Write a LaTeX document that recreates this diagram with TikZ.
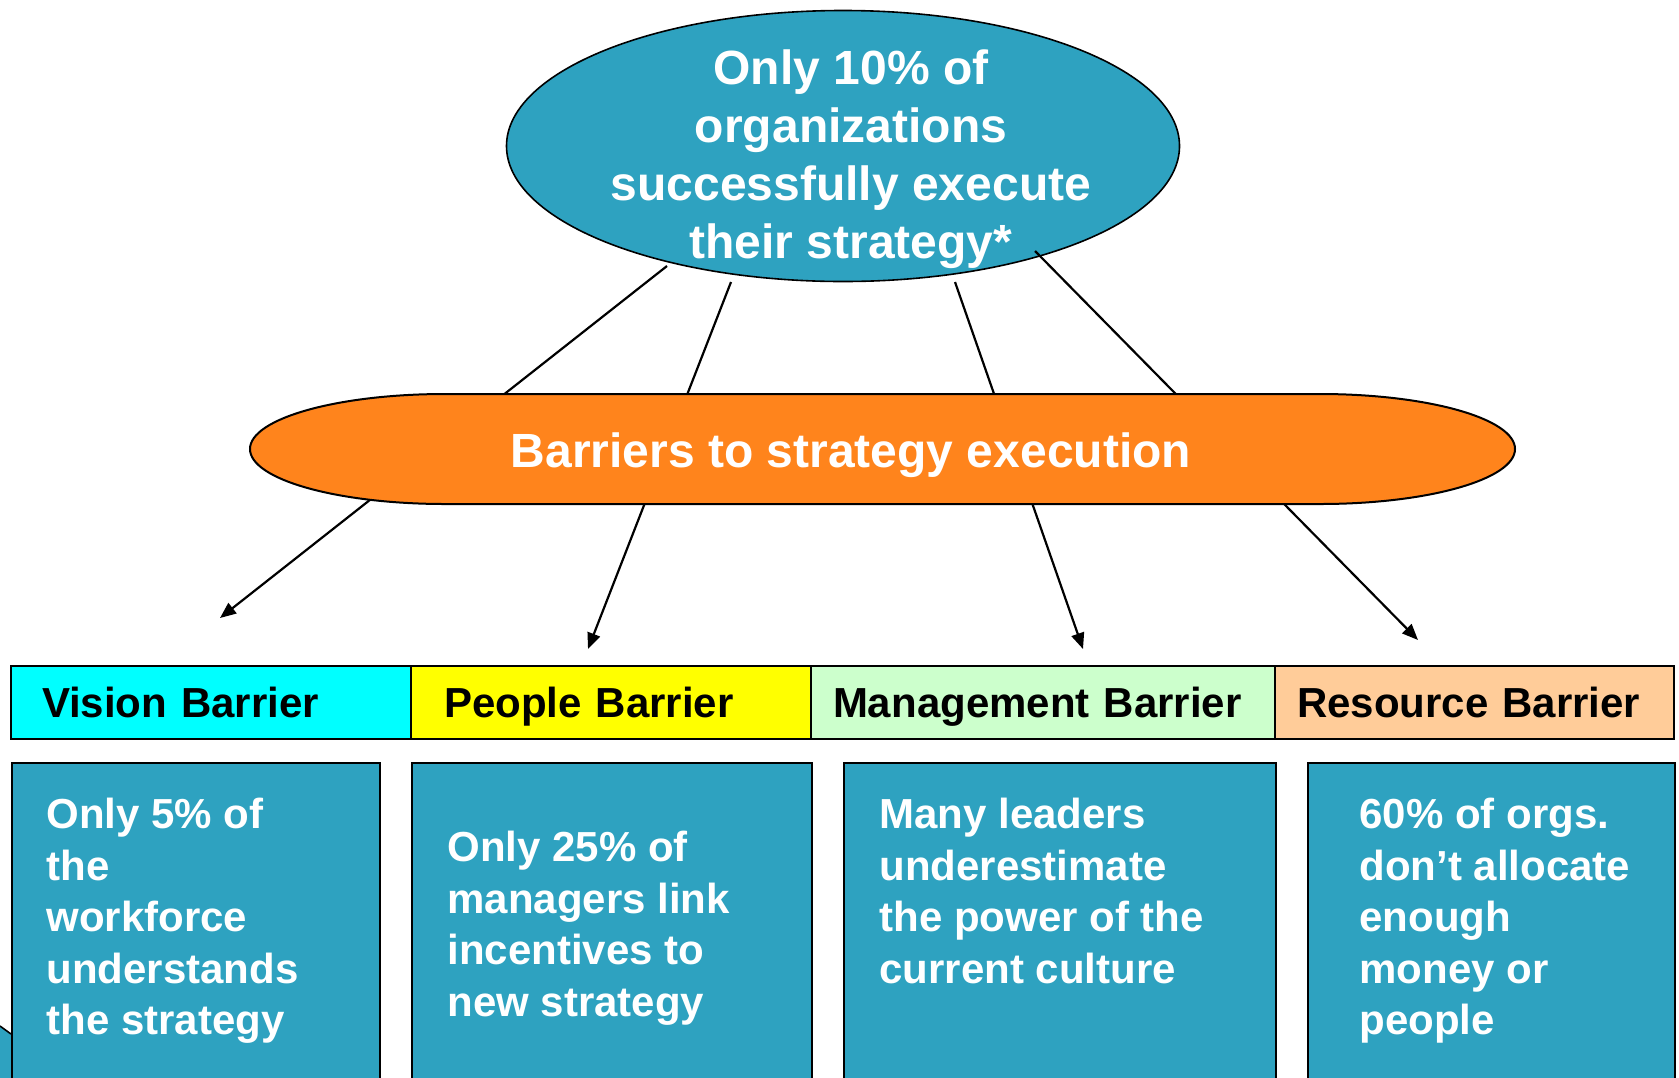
\documentclass[tikz,border=0pt]{standalone}
\usepackage{fontspec}
\setmainfont{Liberation Sans}
\usetikzlibrary{arrows.meta,shapes.geometric,positioning}

\definecolor{tealfill}{HTML}{2EA2C0}
\definecolor{barorange}{HTML}{FF841C}
\definecolor{visioncyan}{HTML}{00FFFF}
\definecolor{peopleyellow}{HTML}{FFFF00}
\definecolor{mgmtgreen}{HTML}{CCFFCC}
\definecolor{resourcepeach}{HTML}{FFCC99}

\begin{document}
\begin{tikzpicture}[x=0.5pt,y=-0.5pt,
    goalshape/.style={ellipse, draw, line width=0.8pt, fill=tealfill, minimum width=336.5pt, minimum height=135.5pt, inner sep=0pt},
    bigtext/.style={text=white, font=\fontsize{24}{29}\selectfont\bfseries, align=center, inner sep=0pt},
    link/.style={line width=1.1pt},
    hcell/.style n args={3}{draw, line width=0.8pt, fill=#1, minimum height=36.5pt, inner ysep=0pt, outer sep=0pt, inner xsep=#2, text width=#3, text height=17.5pt, text depth=2.5pt, align=left, anchor=west, font=\fontsize{21}{25}\selectfont\bfseries},
    factbox/.style={draw, line width=1pt, fill=tealfill, anchor=north west, minimum height=200pt},
    facttext/.style={text=white, anchor=north west, align=left, inner sep=0pt, font=\fontsize{21}{25.7}\selectfont\bfseries}
]

    \useasboundingbox (0,0) rectangle (1679,1077);
    \clip (0,0) rectangle (1679,1077);

    \node[goalshape] (goal) at (843,146) {};
    \node[bigtext] (goaltext) at (851,159) {Only 10\% of\\organizations\\successfully execute\\their strategy*};

    % connectors, the middle part is hidden by the orange shape
    \coordinate (v0) at (667,266);
    \coordinate (p0) at (731,282);
    \coordinate (m0) at (955,282);
    \coordinate (r0) at (1035,251);
    \coordinate (v1) at (220,618);
    \coordinate (p1) at (588,649);
    \coordinate (m1) at (1083,649);
    \coordinate (r1) at (1418,640);

    \draw[link, -{Triangle[length=8pt,width=6.5pt]}] (v0) -- (v1);
    \draw[link, -{Triangle[length=8pt,width=6.5pt]}] (p0) -- (p1);
    \draw[link, -{Triangle[length=8pt,width=6.5pt]}] (m0) -- (m1);
    \draw[link, -{Triangle[length=8pt,width=6.5pt]}] (r0) -- (r1);

    \draw[line width=1pt, fill=barorange] (445,394) -- (1320,394)
        arc[start angle=90, end angle=-90, x radius=97.5pt, y radius=27.5pt] -- (445,504)
        arc[start angle=270, end angle=90, x radius=97.5pt, y radius=27.5pt] -- cycle;
    \node[bigtext] (barriers) at (851,455) {Barriers to strategy execution};

    \node[hcell={visioncyan}{15.5pt}{169pt}] (vision) at (11,702.5) {Vision Barrier};
    \node[hcell={peopleyellow}{16.5pt}{167pt}] (people) at (411,702.5) {People Barrier};
    \node[hcell={mgmtgreen}{11pt}{210pt}] (mgmt) at (811,702.5) {Management Barrier};
    \node[hcell={resourcepeach}{11pt}{177.5pt}] (resource) at (1275,702.5) {Resource Barrier};

    % piece of another shape at the lower left
    \fill[tealfill] (0,1026) -- (11,1034) -- (11,1090) -- (0,1090) -- cycle;
    \draw[line width=0.8pt] (0,1026) -- (11,1034);

    \node[factbox, minimum width=184pt] (visionfact) at (11,762) {};
    \node[factbox, minimum width=200pt] (peoplefact) at (411,762) {};
    \node[factbox, minimum width=216pt] (mgmtfact) at (843,762) {};
    \node[factbox, minimum width=183.5pt] (resourcefact) at (1307,762) {};

    \node[facttext] (visiontext) at (46,798) {Only 5\% of\\the\\workforce\\understands\\the strategy};
    \node[facttext] (peopletext) at (447,831) {Only 25\% of\\managers link\\incentives to\\new strategy};
    \node[facttext] (mgmttext) at (879,798) {Many leaders\\underestimate\\the power of the\\current culture};
    \node[facttext] (resourcetext) at (1359,798) {60\% of orgs.\\don’t allocate\\enough\\money or\\people};

\end{tikzpicture}
\end{document}
